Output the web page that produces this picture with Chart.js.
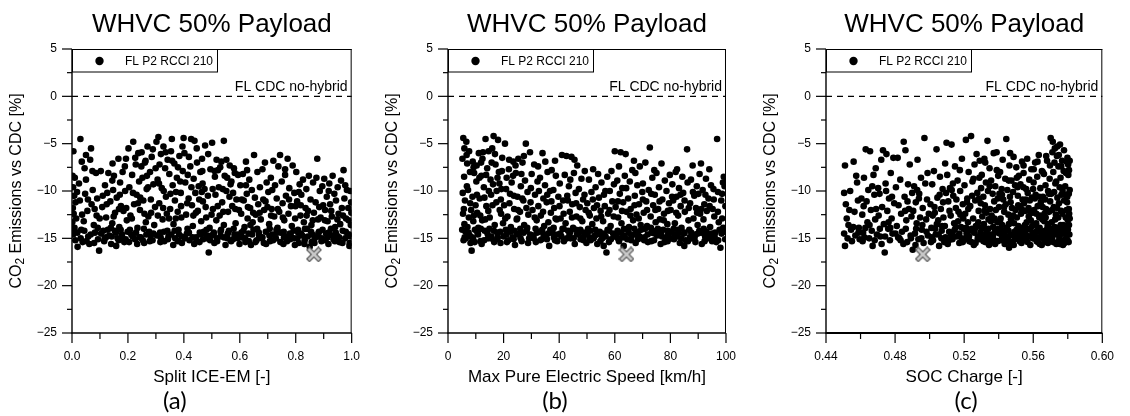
<!DOCTYPE html>
<html>
<head>
<meta charset="utf-8">
<script src="https://cdn.jsdelivr.net/npm/chart.js@4"></script>
<style>
  body { margin: 0; background: #fff; }
  .wrap { position: relative; width: 1130px; height: 416px; overflow: hidden; }
  canvas { position: absolute; top: 0; }
</style>
</head>
<body>
<div class="wrap">
  <canvas id="splitChart" width="376" height="416" style="left:0px"></canvas>
  <canvas id="speedChart" width="376" height="416" style="left:376px"></canvas>
  <canvas id="socChart" width="376" height="416" style="left:754px"></canvas>
</div>
<script>
// ---- data ----
var co2Ticks = [-25, -20, -15, -10, -5, 0, 5];
var splitTicks = [0, 0.2, 0.4, 0.6, 0.8, 1.0];
var speedTicks = [0, 20, 40, 60, 80, 100];
var socTicks = [0.44, 0.48, 0.52, 0.56, 0.60];

// FL CDC no-hybrid reference line
var cdcLevel = 0;

// best case (grey cross) per sweep
var splitBest = [0.865, -16.7];
var speedBest = [64.2, -16.7];
var socBest = [0.496, -16.7];

// FL P2 RCCI 210 runs: [split, co2 %]
var splitRuns = [
[0.005,-5.8],[0.03,-4.5],[0.035,-6.9],[0.065,-6.7],[0.068,-5.5],[0.002,-8.4],[0.01,-8.6],[0.004,-9.6],[0.008,-10.5],[0.003,-11.8],[0.006,-12.4],[0.001,-13.3],[0.009,-13.9],[0.004,-14.6],[0.012,-15.2],[0.02,-15.9],[0.015,-12.9],[0.025,-9.2],[0.028,-11.0],[0.033,-14.1],[0.038,-15.4],[0.042,-13.2],[0.047,-10.3],[0.05,-8.8],[0.055,-12.1],[0.058,-14.8],[0.062,-15.6],[0.07,-11.4],[0.074,-9.9],[0.078,-13.6],[0.082,-14.4],[0.086,-8.1],[0.09,-10.8],[0.093,-15.1],[0.097,-16.3],[0.088,-12.6],[0.045,-7.6],[0.018,-10.1],
[0.103,-7.9],[0.108,-11.7],[0.112,-14.2],[0.115,-15.3],[0.118,-9.4],[0.122,-12.8],[0.126,-10.2],[0.13,-8.1],[0.133,-14.7],[0.137,-11.1],[0.14,-15.6],[0.144,-13.4],[0.147,-9.9],[0.15,-8.4],[0.154,-12.3],[0.157,-14.4],[0.16,-10.7],[0.163,-15.0],[0.166,-6.6],[0.169,-13.8],[0.172,-9.1],[0.175,-11.6],[0.178,-14.9],[0.181,-8.0],[0.184,-12.1],[0.187,-15.4],[0.19,-10.0],[0.193,-6.6],[0.196,-13.1],[0.199,-14.3],[0.121,-14.9],[0.139,-13.9],[0.158,-15.8],[0.174,-14.1],[0.189,-7.4],[0.11,-10.5],[0.145,-7.1],[0.168,-11.9],
[0.202,-5.5],[0.205,-9.6],[0.209,-12.6],[0.212,-14.6],[0.215,-8.3],[0.219,-4.8],[0.222,-11.4],[0.225,-15.1],[0.228,-7.2],[0.231,-10.4],[0.234,-13.9],[0.237,-6.0],[0.24,-9.0],[0.243,-12.0],[0.246,-14.9],[0.249,-5.9],[0.252,-8.6],[0.255,-11.0],[0.258,-15.5],[0.261,-7.0],[0.264,-13.3],[0.267,-9.8],[0.27,-5.3],[0.273,-12.7],[0.276,-14.3],[0.279,-8.0],[0.282,-10.9],[0.285,-6.4],[0.288,-15.2],[0.291,-9.3],[0.294,-13.6],[0.297,-11.7],[0.207,-14.1],[0.233,-15.6],[0.257,-14.0],[0.281,-14.7],[0.299,-7.6],[0.218,-10.2],[0.263,-6.8],[0.244,-10.7],
[0.302,-4.8],[0.306,-8.8],[0.309,-4.3],[0.312,-11.3],[0.315,-14.4],[0.318,-6.1],[0.321,-9.7],[0.324,-13.0],[0.327,-5.3],[0.33,-15.3],[0.333,-7.6],[0.336,-10.6],[0.339,-12.4],[0.342,-6.7],[0.345,-14.8],[0.348,-8.2],[0.351,-11.9],[0.354,-5.8],[0.357,-4.5],[0.36,-9.4],[0.363,-13.5],[0.366,-7.1],[0.369,-15.0],[0.372,-10.1],[0.375,-8.6],[0.378,-12.2],[0.381,-14.1],[0.384,-6.3],[0.387,-9.0],[0.39,-11.6],[0.393,-15.5],[0.396,-7.9],[0.399,-4.4],[0.317,-14.9],[0.341,-14.2],[0.362,-15.7],[0.383,-14.6],[0.328,-10.0],[0.371,-12.9],
[0.402,-6.0],[0.405,-9.1],[0.408,-12.5],[0.411,-14.5],[0.414,-8.3],[0.417,-10.8],[0.42,-15.2],[0.423,-7.4],[0.426,-4.5],[0.429,-11.5],[0.432,-13.7],[0.435,-8.7],[0.438,-4.7],[0.441,-10.2],[0.444,-14.9],[0.447,-7.0],[0.45,-12.1],[0.453,-9.5],[0.456,-15.4],[0.459,-8.0],[0.462,-13.2],[0.465,-6.6],[0.468,-11.1],[0.471,-14.3],[0.474,-9.8],[0.476,-5.2],[0.48,-12.8],[0.483,-15.0],[0.486,-10.5],[0.489,-16.5],[0.492,-13.9],[0.495,-7.7],[0.498,-14.7],[0.413,-14.0],[0.437,-15.6],[0.461,-14.6],[0.481,-14.1],[0.443,-12.3],[0.467,-9.2],
[0.501,-4.9],[0.504,-11.9],[0.507,-14.4],[0.51,-7.9],[0.513,-10.4],[0.516,-13.1],[0.519,-15.3],[0.522,-7.8],[0.525,-9.6],[0.528,-12.6],[0.531,-14.8],[0.534,-6.9],[0.537,-11.2],[0.543,-4.7],[0.543,-13.6],[0.546,-8.4],[0.549,-15.7],[0.552,-10.0],[0.555,-8.6],[0.558,-12.2],[0.561,-14.2],[0.564,-7.3],[0.567,-9.3],[0.57,-9.0],[0.573,-11.6],[0.576,-15.1],[0.579,-7.6],[0.582,-8.1],[0.585,-13.4],[0.588,-10.9],[0.591,-14.6],[0.594,-8.3],[0.597,-12.0],[0.509,-15.5],[0.533,-14.1],[0.556,-15.0],[0.578,-14.0],[0.599,-15.6],[0.517,-6.7],[0.552,-6.7],
[0.602,-9.4],[0.605,-12.4],[0.608,-14.9],[0.611,-8.2],[0.614,-11.0],[0.617,-13.8],[0.62,-15.4],[0.622,-6.9],[0.625,-10.3],[0.628,-12.9],[0.631,-14.5],[0.634,-8.8],[0.637,-11.8],[0.64,-15.7],[0.643,-9.9],[0.646,-13.3],[0.649,-14.1],[0.651,-6.2],[0.654,-10.7],[0.657,-12.5],[0.66,-15.2],[0.663,-8.0],[0.666,-11.4],[0.669,-14.7],[0.672,-9.6],[0.675,-13.0],[0.678,-15.0],[0.681,-7.7],[0.684,-10.9],[0.687,-12.0],[0.69,-7.0],[0.693,-14.3],[0.696,-9.1],[0.699,-11.7],[0.613,-14.2],[0.638,-13.6],[0.662,-14.0],[0.686,-15.5],
[0.702,-10.1],[0.705,-13.5],[0.708,-15.3],[0.711,-8.6],[0.714,-11.9],[0.717,-14.6],[0.72,-6.8],[0.723,-12.7],[0.726,-9.4],[0.729,-15.0],[0.732,-10.8],[0.735,-13.9],[0.738,-7.4],[0.741,-12.2],[0.744,-6.2],[0.747,-14.4],[0.75,-9.0],[0.753,-11.3],[0.756,-15.6],[0.759,-13.1],[0.762,-8.3],[0.765,-10.5],[0.768,-14.8],[0.771,-6.6],[0.774,-12.4],[0.777,-9.7],[0.78,-15.1],[0.783,-11.6],[0.786,-13.7],[0.789,-7.3],[0.792,-14.2],[0.795,-10.2],[0.798,-12.9],[0.707,-14.0],[0.731,-14.1],[0.758,-14.9],[0.779,-14.5],[0.797,-15.7],
[0.802,-8.0],[0.805,-11.1],[0.808,-14.1],[0.811,-15.5],[0.814,-9.3],[0.817,-12.6],[0.82,-10.4],[0.823,-14.7],[0.826,-8.8],[0.829,-13.3],[0.832,-15.2],[0.835,-11.8],[0.838,-9.8],[0.841,-14.0],[0.844,-12.1],[0.847,-8.4],[0.85,-15.9],[0.853,-10.9],[0.856,-13.6],[0.859,-14.6],[0.862,-9.1],[0.865,-12.3],[0.868,-15.0],[0.871,-11.2],[0.874,-8.6],[0.877,-6.6],[0.88,-13.0],[0.883,-14.3],[0.886,-10.0],[0.889,-12.8],[0.892,-15.3],[0.895,-9.5],[0.898,-11.5],[0.809,-14.4],[0.833,-14.0],[0.857,-15.4],[0.879,-14.8],[0.896,-14.1],
[0.902,-8.7],[0.905,-12.0],[0.908,-14.5],[0.911,-10.6],[0.914,-13.2],[0.917,-15.6],[0.92,-9.2],[0.923,-11.4],[0.926,-14.0],[0.929,-12.7],[0.932,-8.4],[0.935,-15.1],[0.938,-10.3],[0.941,-13.8],[0.944,-11.0],[0.947,-14.7],[0.95,-9.6],[0.953,-12.4],[0.956,-15.4],[0.959,-13.5],[0.962,-8.9],[0.965,-11.8],[0.968,-14.2],[0.971,-7.8],[0.974,-10.8],[0.977,-15.0],[0.98,-12.9],[0.983,-9.9],[0.986,-14.6],[0.989,-13.1],[0.992,-15.8],[0.995,-10.0],[0.998,-11.2],[0.999,-12.3],[0.997,-13.6],[0.996,-14.8],[0.993,-15.5],[0.94,-15.3],[0.913,-14.9],
[0.006,-14.0],[0.019,-14.4],[0.031,-15.0],[0.044,-14.2],[0.052,-15.3],[0.067,-14.6],[0.079,-15.5],[0.092,-13.9],[0.104,-14.5],[0.117,-15.0],[0.128,-14.1],[0.142,-14.8],[0.153,-14.2],[0.167,-15.2],[0.179,-14.6],[0.192,-15.1],[0.204,-15.4],[0.217,-14.8],[0.229,-14.4],[0.241,-14.9],[0.253,-15.2],[0.266,-14.6],[0.278,-15.3],[0.291,-14.5],[0.304,-14.7],[0.316,-15.4],[0.329,-14.3],[0.343,-15.1],[0.355,-14.6],[0.367,-14.2],[0.379,-15.3],[0.392,-14.8],[0.404,-15.0],[0.418,-14.4],[0.431,-14.9],[0.445,-15.3],[0.457,-14.4],[0.469,-15.1],[0.482,-14.7],[0.494,-15.2],[0.506,-14.6],[0.518,-15.0],[0.531,-14.3],[0.544,-14.9],[0.557,-14.5],[0.569,-15.3],[0.581,-14.6],[0.593,-15.0],[0.606,-14.4],[0.619,-15.0],[0.632,-15.3],[0.644,-14.6],[0.656,-15.4],[0.668,-14.4],[0.681,-14.9],[0.694,-15.6],[0.706,-14.7],[0.719,-15.2],[0.733,-14.4],[0.745,-15.4],[0.757,-14.3],[0.769,-15.3],[0.782,-14.7],[0.794,-15.0],[0.806,-15.0],[0.819,-14.5],[0.831,-15.6],[0.843,-14.8],[0.855,-14.3],[0.867,-15.5],[0.881,-14.5],[0.893,-15.0],[0.906,-15.2],[0.918,-14.4],[0.931,-14.7],[0.943,-14.4],[0.955,-14.9],[0.967,-15.5],[0.979,-14.3],[0.991,-14.6],
[0.013,-11.2],[0.036,-12.5],[0.057,-10.9],[0.081,-11.9],[0.099,-12.9],[0.124,-11.4],[0.149,-12.7],[0.171,-10.4],[0.194,-11.8],[0.214,-12.9],[0.236,-11.3],[0.259,-12.4],[0.283,-12.3],[0.307,-12.6],[0.326,-11.8],[0.347,-12.9],[0.368,-11.0],[0.391,-12.8],[0.412,-11.3],[0.434,-12.6],[0.455,-10.9],[0.478,-11.7],[0.499,-12.5],[0.521,-11.6],[0.541,-12.2],[0.563,-10.6],[0.584,-11.9],[0.607,-10.9],[0.629,-11.7],[0.648,-12.3],[0.671,-12.3],[0.692,-11.1],[0.712,-12.6],[0.736,-11.9],[0.754,-12.8],[0.776,-10.9],[0.799,-11.6],[0.818,-11.5],[0.839,-12.6],[0.861,-13.1],[0.884,-11.7],[0.904,-13.1],[0.927,-12.1],[0.949,-13.0],[0.969,-12.6],[0.988,-11.8],[0.272,-9.6],[0.311,-9.2],[0.352,-10.3],[0.389,-10.2],[0.427,-9.6],[0.464,-10.1],[0.503,-9.8],[0.539,-9.8],[0.576,-10.2],[0.622,-9.4],[0.716,-9.9],[0.811,-10.1],[0.918,-10.0],[0.977,-9.4],
[0.226,-6.5],[0.248,-7.4],[0.268,-8.4],[0.289,-5.6],[0.313,-7.2],[0.335,-5.9],[0.358,-6.8],[0.379,-7.5],[0.395,-5.3],[0.418,-6.4],[0.446,-5.5],[0.466,-7.9],[0.487,-6.1],[0.511,-8.5],[0.53,-7.5],[0.05,-6.2],[0.073,-7.9],[0.144,-8.9],[0.626,-7.8],[0.762,-7.7]
];

// [max pure electric speed km/h, co2 %]
var speedRuns = [
[5.2,-6.6],[5.5,-4.4],[5.8,-8.5],[6.1,-11.0],[5.4,-12.4],[5.9,-13.5],[6.3,-14.3],[5.6,-15.2],[6.6,-4.8],[6.9,-7.1],[7.2,-9.9],[7.5,-12.8],[7.8,-14.7],[8.1,-15.5],[8.5,-16.3],[8.8,-10.6],[9.1,-13.2],[9.4,-8.1],[9.7,-14.1],[5.3,-10.2],[6.0,-14.9],[7.0,-13.8],[8.3,-12.0],[9.0,-15.0],[9.9,-11.5],[7.6,-5.8],[8.9,-6.9],
[10.2,-9.0],[10.5,-12.3],[10.8,-14.6],[11.1,-6.0],[11.4,-10.8],[11.7,-15.3],[12.0,-8.4],[12.3,-13.1],[12.6,-5.9],[12.9,-9.6],[13.2,-14.2],[13.5,-4.5],[13.8,-11.6],[14.1,-7.6],[14.4,-15.0],[14.7,-10.0],[15.0,-12.8],[15.3,-8.8],[15.6,-14.8],[15.9,-5.5],[16.2,-9.3],[16.4,-4.2],[16.8,-13.6],[17.1,-7.2],[17.4,-11.2],[17.7,-14.4],[18.0,-4.6],[18.3,-8.0],[18.6,-12.0],[18.9,-15.5],[19.2,-9.8],[19.5,-6.5],[19.8,-13.4],[10.9,-13.9],[12.1,-15.6],[13.4,-13.0],[14.9,-14.0],[16.6,-15.4],[17.9,-14.9],[19.0,-10.9],[11.9,-7.0],[15.5,-10.4],[18.5,-9.2],
[20.2,-11.5],[20.5,-5.0],[20.8,-14.1],[21.1,-8.6],[21.4,-12.7],[21.7,-15.2],[22.0,-6.7],[22.3,-10.3],[22.6,-13.8],[22.9,-9.1],[23.2,-14.9],[23.5,-6.9],[23.8,-11.9],[24.1,-15.7],[24.4,-8.1],[24.7,-13.0],[25.0,-10.6],[25.3,-6.6],[25.6,-14.5],[25.9,-12.2],[26.2,-9.5],[26.5,-15.3],[26.8,-7.0],[27.1,-11.0],[27.4,-13.6],[27.7,-8.9],[28.0,-5.0],[28.3,-14.2],[28.6,-10.1],[28.9,-12.5],[29.2,-15.0],[29.5,-5.9],[29.8,-9.7],[21.0,-14.6],[23.9,-14.2],[26.0,-14.0],[28.8,-15.5],[24.9,-12.9],[27.3,-6.3],
[30.1,-8.2],[30.4,-12.0],[30.7,-14.7],[31.0,-7.2],[31.3,-10.4],[31.6,-15.4],[31.9,-13.1],[32.2,-9.0],[32.5,-11.6],[32.8,-14.3],[33.1,-8.6],[33.4,-12.6],[33.7,-15.1],[34.0,-6.0],[34.3,-10.8],[34.6,-13.7],[34.9,-9.4],[35.2,-14.9],[35.5,-11.2],[35.8,-8.0],[36.1,-13.3],[36.4,-15.8],[36.7,-10.0],[37.0,-12.3],[37.3,-7.8],[37.6,-14.4],[37.9,-9.9],[38.2,-11.8],[38.5,-15.2],[38.8,-8.4],[39.1,-13.0],[39.4,-14.6],[39.7,-10.6],[31.5,-14.0],[33.9,-14.1],[36.0,-14.5],[38.0,-13.9],[35.0,-6.9],
[40.2,-9.2],[40.5,-12.9],[40.8,-14.8],[41.0,-6.2],[41.4,-11.0],[41.7,-15.3],[42.0,-8.3],[42.3,-13.4],[42.6,-6.3],[42.9,-10.5],[43.2,-14.2],[43.5,-9.5],[43.8,-12.2],[44.1,-15.0],[44.4,-6.4],[44.7,-11.4],[45.0,-13.9],[45.3,-8.1],[45.6,-15.6],[45.9,-10.2],[46.2,-12.7],[46.5,-7.3],[46.8,-14.5],[47.1,-9.8],[47.4,-11.7],[47.7,-15.1],[48.0,-8.7],[48.3,-13.2],[48.6,-10.9],[48.9,-14.4],[49.2,-7.9],[49.5,-12.0],[49.8,-15.5],[41.2,-14.0],[43.7,-14.6],[46.0,-14.1],[48.5,-14.9],[44.0,-8.8],
[50.1,-11.3],[50.4,-14.0],[50.7,-8.8],[51.0,-12.6],[51.3,-15.2],[51.6,-10.1],[51.9,-13.5],[52.2,-7.7],[52.5,-11.8],[52.8,-14.7],[53.1,-9.6],[53.4,-12.9],[53.7,-15.6],[54.0,-8.2],[54.3,-10.7],[54.6,-14.3],[54.9,-12.1],[55.2,-9.1],[55.5,-15.0],[55.8,-13.2],[56.1,-10.4],[56.4,-11.6],[56.7,-14.8],[57.0,-16.5],[57.3,-8.5],[57.6,-12.4],[57.9,-15.4],[58.2,-10.0],[58.5,-13.7],[58.8,-7.9],[59.1,-11.1],[59.4,-14.5],[59.7,-9.3],[50.9,-14.9],[53.0,-14.1],[55.0,-14.6],[58.0,-14.2],[56.0,-15.8],
[60.0,-5.8],[60.3,-11.7],[60.6,-14.6],[60.9,-8.9],[61.2,-12.8],[61.5,-15.3],[61.8,-10.3],[62.1,-5.9],[62.4,-13.4],[62.7,-9.7],[63.0,-11.2],[63.3,-14.0],[63.6,-8.4],[63.9,-6.1],[64.2,-12.2],[64.5,-15.1],[64.8,-10.8],[65.1,-13.8],[65.4,-9.0],[65.7,-11.9],[66.0,-14.7],[66.3,-7.8],[66.6,-13.1],[66.9,-6.8],[67.2,-10.5],[67.5,-15.5],[67.8,-12.5],[68.1,-9.4],[68.4,-14.3],[68.7,-11.4],[69.0,-7.4],[69.3,-13.6],[69.6,-15.0],[69.9,-10.1],[61.0,-14.2],[62.9,-14.9],[65.0,-14.4],[67.0,-14.0],[68.9,-14.8],[63.2,-15.8],
[70.1,-9.2],[70.4,-12.3],[70.7,-14.9],[71.0,-7.0],[71.3,-11.1],[71.6,-13.7],[71.9,-15.4],[72.2,-9.9],[72.6,-5.4],[72.9,-12.7],[73.2,-14.4],[73.5,-8.6],[73.8,-11.5],[74.1,-15.2],[74.4,-10.4],[74.7,-13.3],[75.0,-8.1],[75.3,-14.7],[75.6,-11.9],[75.9,-9.6],[76.2,-13.0],[76.5,-15.6],[76.8,-7.1],[77.1,-10.9],[77.4,-14.1],[77.7,-12.4],[78.0,-8.9],[78.3,-15.0],[78.6,-10.0],[78.9,-13.5],[79.2,-14.6],[79.5,-11.3],[79.8,-8.3],[70.9,-14.0],[73.0,-13.9],[74.9,-14.2],[77.0,-14.8],[79.0,-15.3],
[80.1,-12.0],[80.4,-14.3],[80.7,-9.3],[81.0,-11.0],[81.3,-15.1],[81.6,-13.4],[81.9,-8.0],[82.2,-10.6],[82.5,-14.8],[82.8,-12.6],[83.1,-9.7],[83.4,-15.5],[83.7,-11.6],[84.0,-13.9],[84.3,-8.5],[84.6,-10.2],[84.9,-14.5],[85.2,-12.2],[85.5,-15.2],[86.0,-5.6],[86.2,-9.1],[86.5,-13.1],[86.8,-14.1],[87.1,-11.3],[87.4,-8.8],[87.7,-15.0],[88.0,-7.3],[88.3,-12.9],[88.6,-10.5],[88.9,-14.6],[89.2,-11.8],[89.5,-9.5],[89.8,-13.6],[81.2,-14.0],[83.0,-14.4],[85.0,-15.8],[87.0,-14.9],[89.0,-15.4],
[90.1,-10.3],[90.4,-14.2],[90.7,-12.4],[91.0,-7.1],[91.3,-15.6],[91.6,-9.9],[91.9,-13.0],[92.2,-11.4],[92.5,-14.8],[92.8,-8.7],[93.1,-12.1],[93.4,-15.0],[93.7,-10.8],[94.0,-7.7],[94.3,-13.8],[94.6,-9.4],[94.9,-14.5],[95.2,-11.9],[95.5,-9.8],[95.8,-12.7],[96.1,-14.4],[96.8,-4.5],[97.1,-10.1],[97.4,-13.3],[97.7,-14.1],[98.0,-16.0],[98.3,-11.0],[98.6,-12.9],[98.9,-9.1],[99.2,-8.5],[99.5,-9.5],[99.7,-15.1],[93.0,-14.3],[95.0,-15.3],[96.5,-15.4],[99.0,-13.9],[92.0,-14.0],
[5.1,-14.1],[6.4,-15.0],[7.4,-14.4],[8.6,-14.9],[9.6,-15.4],[10.6,-14.4],[11.8,-14.0],[13.0,-15.2],[14.2,-14.5],[15.4,-15.0],[16.5,-14.2],[17.6,-15.1],[18.8,-14.3],[20.0,-14.8],[21.2,-15.4],[22.4,-14.3],[23.6,-15.1],[24.8,-14.6],[26.1,-15.0],[27.2,-14.4],[28.5,-13.9],[29.6,-14.6],[30.8,-15.0],[32.0,-14.4],[33.2,-15.2],[34.4,-14.6],[35.6,-15.1],[36.8,-14.1],[38.1,-14.9],[39.3,-15.3],[40.4,-14.5],[41.6,-14.0],[42.8,-15.0],[44.0,-14.3],[45.2,-15.0],[46.4,-14.6],[47.6,-14.1],[48.8,-15.2],[50.0,-14.6],[51.2,-14.2],[52.4,-15.0],[53.6,-14.6],[54.8,-15.3],[56.2,-14.5],[57.4,-14.1],[58.6,-15.1],[59.8,-14.8],[61.1,-15.0],[62.3,-14.4],[63.5,-14.7],[64.7,-14.1],[65.9,-15.2],[67.1,-14.6],[68.3,-15.1],[69.5,-14.1],[70.6,-15.2],[71.8,-14.6],[73.1,-15.3],[74.3,-14.5],[75.5,-14.0],[76.7,-14.4],[77.9,-15.4],[79.1,-14.2],[80.3,-15.0],[81.5,-14.6],[82.7,-14.1],[83.9,-15.0],[85.1,-14.4],[86.3,-15.3],[87.5,-14.4],[88.7,-14.9],[89.9,-14.5],[91.1,-14.4],[92.3,-15.3],[93.5,-14.6],[94.7,-15.0],[95.9,-14.8],[97.2,-15.2],[98.4,-14.5],[99.6,-14.3],
[5.7,-11.9],[6.8,-9.5],[8.0,-11.3],[9.3,-12.6],[10.4,-10.4],[11.6,-12.6],[13.1,-10.7],[14.5,-12.1],[16.0,-11.5],[17.5,-10.0],[19.1,-12.4],[20.6,-12.9],[22.1,-11.3],[23.7,-10.5],[25.2,-12.0],[26.7,-10.8],[28.2,-11.8],[29.7,-11.2],[31.2,-12.8],[32.7,-10.0],[34.2,-12.2],[35.7,-10.4],[37.2,-11.1],[38.7,-12.9],[40.1,-11.6],[41.6,-12.4],[43.1,-11.0],[44.6,-12.8],[46.1,-11.3],[47.6,-12.9],[49.1,-10.4],[50.6,-12.3],[52.1,-10.9],[53.6,-11.5],[55.1,-12.7],[56.6,-10.0],[58.1,-12.0],[59.6,-12.7],[61.1,-11.1],[62.6,-12.1],[64.1,-9.7],[65.6,-12.6],[67.1,-11.5],[68.6,-12.9],[70.1,-10.9],[71.6,-12.0],[73.1,-10.3],[74.6,-12.0],[76.1,-11.1],[77.6,-13.1],[79.1,-12.1],[80.6,-10.6],[82.1,-12.3],[83.6,-10.4],[85.1,-11.0],[86.6,-11.8],[88.1,-10.1],[89.6,-12.3],[91.1,-11.9],[92.6,-10.4],[94.1,-11.6],[95.6,-10.9],[97.1,-12.2],[98.6,-10.3],[99.8,-11.6],
[5.9,-5.5],[6.7,-6.2],[7.9,-8.0],[9.2,-7.5],[10.3,-7.3],[11.3,-8.6],[12.4,-6.6],[13.7,-8.3],[14.6,-5.8],[15.7,-7.0],[16.9,-6.1],[17.8,-8.6],[19.4,-7.9],[20.9,-9.8],[21.9,-7.7],[23.4,-8.4],[24.3,-7.3],[26.4,-8.2],[32.4,-7.4],[38.5,-6.8],[45.5,-6.7],[61.5,-7.4],[67.4,-8.1],[74.2,-7.8],[82.4,-7.7],[90.5,-8.2]
];

// [SOC charge, co2 %]
var socRuns = [
[0.4505,-10.2],[0.451,-7.3],[0.4515,-11.4],[0.452,-12.9],[0.4505,-14.5],[0.451,-15.8],[0.453,-13.6],[0.454,-10.0],[0.455,-15.3],[0.456,-6.9],[0.4565,-12.2],[0.457,-14.7],[0.458,-9.1],[0.4585,-11.0],[0.459,-13.9],[0.4595,-15.1],[0.4575,-8.4],[0.4545,-14.1],
[0.4605,-10.8],[0.461,-12.5],[0.4615,-14.4],[0.462,-8.6],[0.463,-5.6],[0.4635,-11.1],[0.464,-13.3],[0.4645,-9.9],[0.465,-15.0],[0.4655,-5.8],[0.466,-12.0],[0.4665,-14.2],[0.467,-15.8],[0.4675,-8.3],[0.468,-10.4],[0.4685,-13.0],[0.469,-11.9],[0.4695,-14.6],[0.4612,-15.3],[0.4668,-9.5],[0.4628,-13.9],[0.4688,-7.6],
[0.4705,-12.6],[0.471,-10.3],[0.4715,-14.8],[0.472,-6.7],[0.4725,-11.7],[0.473,-5.7],[0.4735,-13.5],[0.474,-16.5],[0.4745,-9.2],[0.475,-6.1],[0.4755,-12.1],[0.476,-14.0],[0.4765,-10.8],[0.477,-15.2],[0.4775,-8.1],[0.478,-12.9],[0.4785,-14.5],[0.479,-6.5],[0.4795,-11.3],[0.4722,-15.6],[0.4762,-13.3],[0.4748,-10.0],
[0.4805,-9.6],[0.481,-13.7],[0.4815,-6.5],[0.482,-11.5],[0.4825,-15.0],[0.483,-8.8],[0.4835,-12.4],[0.484,-14.3],[0.485,-4.8],[0.4855,-10.6],[0.486,-5.7],[0.4865,-13.1],[0.487,-15.4],[0.4875,-9.3],[0.488,-11.9],[0.4885,-7.2],[0.489,-14.7],[0.4895,-12.7],[0.4818,-14.9],[0.4848,-15.6],[0.4872,-11.1],[0.4899,-10.2],
[0.4902,-16.2],[0.4905,-12.1],[0.491,-9.5],[0.4915,-14.5],[0.492,-11.2],[0.4925,-13.4],[0.493,-6.7],[0.4935,-15.1],[0.494,-10.3],[0.4945,-12.8],[0.495,-8.6],[0.4955,-14.1],[0.496,-11.8],[0.4965,-15.5],[0.497,-4.4],[0.4975,-9.2],[0.498,-13.0],[0.4985,-10.9],[0.499,-14.7],[0.4995,-12.4],[0.4918,-15.7],[0.4958,-13.6],[0.4988,-8.1],[0.4938,-10.8],
[0.5005,-11.4],[0.501,-13.9],[0.5015,-9.3],[0.502,-15.2],[0.5025,-7.9],[0.503,-12.3],[0.5035,-14.6],[0.504,-5.6],[0.5045,-10.7],[0.505,-13.1],[0.5055,-15.8],[0.506,-8.5],[0.5065,-11.9],[0.507,-14.2],[0.5075,-9.8],[0.508,-12.8],[0.5085,-15.4],[0.509,-7.1],[0.5095,-10.2],[0.5012,-14.9],[0.5042,-13.5],[0.5068,-15.0],[0.5088,-13.7],[0.5058,-10.4],[0.5028,-11.7],[0.5098,-4.9],
[0.5102,-8.3],[0.5108,-11.1],[0.5113,-14.3],[0.5118,-9.7],[0.5122,-12.6],[0.5127,-5.1],[0.5132,-15.1],[0.5137,-10.5],[0.5142,-13.4],[0.5147,-7.4],[0.5152,-11.8],[0.5157,-14.8],[0.5162,-8.9],[0.5167,-12.2],[0.5172,-15.5],[0.5177,-10.0],[0.5182,-13.8],[0.5187,-6.6],[0.5192,-11.4],[0.5197,-14.0],[0.5105,-15.6],[0.5125,-14.7],[0.5145,-14.1],[0.5165,-13.2],[0.5185,-15.0],[0.5115,-12.1],[0.5135,-9.2],[0.5155,-10.9],[0.5175,-7.8],[0.5195,-12.9],
[0.5202,-9.4],[0.5206,-12.4],[0.521,-4.6],[0.5214,-14.5],[0.5218,-10.8],[0.5222,-13.3],[0.5226,-8.0],[0.523,-15.3],[0.5235,-11.6],[0.524,-4.2],[0.5244,-14.0],[0.5248,-9.0],[0.5252,-12.9],[0.5256,-15.7],[0.526,-7.2],[0.5264,-11.0],[0.5268,-13.7],[0.5272,-6.1],[0.5276,-10.2],[0.528,-14.8],[0.5284,-12.1],[0.5288,-8.6],[0.5292,-15.1],[0.5296,-11.3],[0.5299,-13.9],[0.5208,-15.0],[0.5232,-14.2],[0.5258,-14.4],[0.5282,-13.3],[0.5298,-9.7],[0.5224,-11.9],[0.5266,-15.5],[0.5246,-10.5],[0.529,-6.8],
[0.5302,-8.3],[0.5305,-12.7],[0.5308,-14.9],[0.5311,-10.6],[0.5314,-13.5],[0.5317,-6.6],[0.532,-11.5],[0.5323,-15.4],[0.5326,-9.1],[0.5329,-12.3],[0.5332,-14.1],[0.5335,-4.7],[0.5338,-10.0],[0.5341,-13.0],[0.5344,-15.7],[0.5347,-7.6],[0.535,-11.9],[0.5353,-14.6],[0.5356,-8.9],[0.5359,-12.6],[0.5362,-15.1],[0.5365,-10.3],[0.5368,-13.8],[0.5371,-6.0],[0.5374,-11.1],[0.5377,-14.4],[0.538,-9.5],[0.5383,-12.0],[0.5386,-15.3],[0.5389,-7.8],[0.5392,-13.3],[0.5395,-10.8],[0.5398,-14.0],[0.5309,-13.9],[0.5331,-15.0],[0.5355,-13.2],[0.5379,-15.6],[0.5397,-8.4],
[0.5402,-11.7],[0.5405,-14.5],[0.5408,-8.0],[0.5411,-12.9],[0.5414,-15.2],[0.5417,-9.8],[0.542,-13.6],[0.5423,-6.7],[0.5426,-10.9],[0.5429,-14.2],[0.5432,-12.2],[0.5435,-15.6],[0.5438,-8.7],[0.5441,-11.4],[0.5444,-4.5],[0.5447,-13.9],[0.545,-9.9],[0.5453,-15.0],[0.5456,-12.5],[0.546,-16.0],[0.5462,-7.3],[0.5465,-10.6],[0.5468,-14.7],[0.5471,-13.0],[0.5474,-8.9],[0.5477,-11.8],[0.548,-15.4],[0.5483,-10.1],[0.5486,-6.4],[0.5489,-13.4],[0.5492,-14.3],[0.5495,-9.4],[0.5498,-12.0],[0.5407,-13.2],[0.5428,-15.1],[0.5449,-14.8],[0.5469,-11.2],[0.5487,-15.7],[0.5459,-13.5],[0.5419,-10.4],
[0.5502,-7.5],[0.5505,-12.8],[0.5508,-15.0],[0.5511,-10.5],[0.5514,-13.7],[0.5517,-8.4],[0.552,-11.7],[0.5523,-14.6],[0.5526,-9.3],[0.5529,-12.4],[0.5532,-15.5],[0.5535,-6.9],[0.5538,-10.9],[0.5541,-13.9],[0.5544,-8.1],[0.5547,-11.3],[0.555,-14.2],[0.5553,-12.1],[0.5556,-15.2],[0.5559,-9.8],[0.5562,-13.3],[0.5565,-6.6],[0.5568,-10.2],[0.5571,-14.8],[0.5574,-12.7],[0.5577,-8.8],[0.558,-11.0],[0.5583,-15.7],[0.5586,-13.1],[0.5589,-7.7],[0.5592,-10.7],[0.5595,-14.4],[0.5598,-12.3],[0.5504,-14.1],[0.5522,-15.3],[0.5537,-14.9],[0.5552,-13.6],[0.5567,-15.4],[0.5581,-14.0],[0.5597,-15.0],[0.5513,-11.5],[0.5543,-9.6],[0.5573,-11.8],
[0.5602,-9.1],[0.5605,-12.0],[0.5608,-14.7],[0.5611,-7.0],[0.5614,-10.4],[0.5617,-13.4],[0.562,-15.3],[0.5623,-8.5],[0.5626,-11.6],[0.5629,-14.0],[0.5632,-6.2],[0.5635,-12.8],[0.5638,-15.6],[0.5641,-9.7],[0.5644,-11.2],[0.5647,-14.5],[0.565,-7.9],[0.5653,-13.0],[0.5656,-10.6],[0.5659,-15.0],[0.5662,-8.2],[0.5665,-12.4],[0.5668,-14.2],[0.5671,-9.4],[0.5674,-11.9],[0.5677,-15.4],[0.568,-6.8],[0.5683,-13.7],[0.5686,-10.0],[0.5689,-14.8],[0.5692,-12.2],[0.5695,-8.7],[0.5698,-11.1],[0.5604,-13.6],[0.5619,-14.9],[0.5634,-14.3],[0.5649,-15.7],[0.5664,-13.2],[0.5679,-14.1],[0.5694,-15.2],[0.5609,-10.8],[0.5639,-12.6],[0.5669,-10.9],[0.5688,-13.5],
[0.5701,-4.4],[0.5704,-10.3],[0.5707,-13.3],[0.571,-15.1],[0.5713,-4.8],[0.5716,-8.0],[0.5719,-11.7],[0.5722,-14.4],[0.5725,-5.5],[0.5728,-9.2],[0.5731,-12.5],[0.5734,-15.6],[0.5737,-6.3],[0.574,-10.7],[0.5743,-13.9],[0.5746,-7.4],[0.5749,-11.3],[0.5752,-14.8],[0.5755,-5.1],[0.5758,-8.6],[0.5761,-12.1],[0.5764,-15.3],[0.5767,-6.8],[0.577,-10.0],[0.5773,-13.6],[0.5776,-7.9],[0.5779,-11.0],[0.5782,-14.2],[0.5785,-9.5],[0.5788,-12.8],[0.5791,-15.0],[0.5794,-6.9],[0.5797,-10.6],[0.58,-13.1],[0.5803,-8.3],[0.5806,-11.9],[0.5809,-14.6],[0.5811,-9.9],[0.5808,-12.4],[0.5805,-15.4],[0.5802,-7.2],[0.5712,-14.0],[0.5727,-13.0],[0.5742,-15.5],[0.5757,-14.1],[0.5772,-15.7],[0.5787,-14.5],[0.5799,-15.2],[0.5733,-9.0],[0.5763,-10.4],[0.5793,-12.0],
[0.4525,-15.0],[0.4558,-13.8],[0.4588,-14.4],[0.4622,-14.9],[0.4652,-13.6],[0.4682,-15.2],[0.4712,-14.0],[0.4742,-14.8],[0.4772,-13.9],[0.4802,-14.5],[0.4832,-15.2],[0.4862,-14.0],[0.4892,-15.0],[0.4922,-14.0],[0.4952,-15.0],[0.4982,-14.3],[0.5008,-15.4],[0.5032,-14.0],[0.5052,-14.6],[0.5072,-13.7],[0.5092,-14.9],[0.5112,-15.2],[0.5132,-14.4],[0.5152,-13.8],[0.5172,-14.5],[0.5192,-15.4],[0.5212,-13.9],[0.5228,-14.8],[0.5242,-15.4],[0.5262,-14.0],[0.5278,-15.1],[0.5294,-14.4],[0.5312,-15.3],[0.5326,-14.5],[0.534,-14.0],[0.5352,-15.4],[0.5366,-14.8],[0.5381,-14.2],[0.5394,-15.3],[0.5408,-14.1],[0.5421,-14.9],[0.5433,-14.4],[0.5445,-15.3],[0.5457,-14.2],[0.547,-15.6],[0.5482,-14.6],[0.5494,-15.1],[0.5507,-14.5],[0.5519,-13.9],[0.5531,-14.4],[0.5545,-15.1],[0.5558,-14.6],[0.5569,-14.0],[0.5582,-14.8],[0.5594,-13.7],[0.5606,-15.0],[0.5616,-14.3],[0.5627,-15.4],[0.5637,-13.9],[0.5646,-14.9],[0.5657,-14.3],[0.5667,-15.3],[0.5676,-14.6],[0.5685,-15.5],[0.5696,-14.4],[0.5706,-14.8],[0.5715,-15.4],[0.5724,-13.8],[0.5732,-14.6],[0.5741,-14.2],[0.5751,-15.1],[0.5759,-13.6],[0.5768,-14.5],[0.5776,-15.2],[0.5784,-13.9],[0.5792,-14.7],[0.5801,-14.1],[0.5807,-13.6],[0.5781,-15.5],[0.5754,-15.6],
[0.4535,-12.0],[0.4618,-11.6],[0.4702,-9.7],[0.4782,-10.6],[0.4858,-12.1],[0.4928,-9.9],[0.5018,-12.6],[0.5078,-11.2],[0.5128,-9.9],[0.5178,-12.5],[0.5216,-11.2],[0.5254,-8.7],[0.5286,-10.8],[0.5318,-12.1],[0.5348,-9.5],[0.5376,-12.9],[0.5404,-10.3],[0.5431,-11.7],[0.5458,-8.9],[0.5484,-12.6],[0.5509,-9.6],[0.5533,-11.9],[0.5557,-10.9],[0.5578,-12.1],[0.5599,-9.8],[0.5618,-12.4],[0.5636,-10.6],[0.5654,-11.7],[0.5672,-12.8],[0.5691,-10.3],[0.5709,-12.0],[0.5721,-10.1],[0.5738,-11.8],[0.5753,-9.6],[0.5769,-12.4],[0.5783,-10.4],[0.5796,-11.2],[0.5806,-10.3],[0.5811,-12.9],[0.5745,-12.8],
[0.5603,-7.7],[0.5625,-6.9],[0.5655,-8.0],[0.5675,-6.3],[0.5697,-7.3],[0.5711,-5.9],[0.5723,-7.0],[0.5739,-5.3],[0.5748,-6.2],[0.5762,-7.4],[0.5778,-5.7],[0.579,-8.1],[0.5798,-6.5],[0.5807,-7.8],[0.5811,-6.8],[0.5544,-7.3],[0.5505,-8.6],[0.5466,-6.0],[0.5388,-5.9],[0.5322,-7.0]
];

// ---- drawing ----
var FONT = "'Liberation Sans', Arial, sans-serif";

function toXY(list) { return list.map(function (p) { return { x: p[0], y: p[1] }; }); }
function midpoints(t) { var out = []; for (var i = 0; i < t.length - 1; i++) out.push((t[i] + t[i + 1]) / 2); return out; }

// grey cross with a dark outline, used as point image
function crossImage() {
  var c = document.createElement("canvas");
  c.width = 16; c.height = 16;
  var g = c.getContext("2d");
  g.lineCap = "square";
  g.strokeStyle = "#5a5a5a"; g.lineWidth = 5;
  g.beginPath(); g.moveTo(3.5, 3.5); g.lineTo(12.5, 12.5); g.moveTo(12.5, 3.5); g.lineTo(3.5, 12.5); g.stroke();
  g.strokeStyle = "#c8c8c8"; g.lineWidth = 2.6;
  g.beginPath(); g.moveTo(3.5, 3.5); g.lineTo(12.5, 12.5); g.moveTo(12.5, 3.5); g.lineTo(3.5, 12.5); g.stroke();
  return c;
}
var crossImg = crossImage();

function line(ctx, x1, y1, x2, y2) { ctx.beginPath(); ctx.moveTo(x1, y1); ctx.lineTo(x2, y2); ctx.stroke(); }

var decor = {
  id: "decor",
  afterDraw: function (chart) {
    var o = chart.options.plugins.decor;
    var ctx = chart.ctx, a = chart.chartArea;
    var xs = chart.scales.x, ys = chart.scales.y;
    var cx = (a.left + a.right) / 2;
    ctx.save();
    ctx.strokeStyle = "#000";
    ctx.fillStyle = "#000";

    // frame
    ctx.lineWidth = 1;
    line(ctx, a.left, a.top + 0.5, a.right, a.top + 0.5);
    line(ctx, a.right - 0.5, a.top, a.right - 0.5, a.bottom);
    ctx.lineWidth = 1.4;
    line(ctx, a.left, a.top, a.left, a.bottom + 0.5);
    ctx.lineWidth = o.bottomWidth;
    line(ctx, a.left - 0.5, a.bottom, a.right, a.bottom);

    // ticks
    ctx.lineWidth = 1.2;
    o.xTicks.forEach(function (v) { var p = xs.getPixelForValue(v); line(ctx, p, a.bottom, p, a.bottom + 10); });
    midpoints(o.xTicks).forEach(function (v) { var p = xs.getPixelForValue(v); line(ctx, p, a.bottom, p, a.bottom + 6); });
    co2Ticks.forEach(function (v) { var p = ys.getPixelForValue(v); line(ctx, a.left, p, a.left - 10, p); });
    midpoints(co2Ticks).forEach(function (v) { var p = ys.getPixelForValue(v); line(ctx, a.left, p, a.left - 5, p); });

    // reference line
    var zy = ys.getPixelForValue(cdcLevel);
    ctx.lineWidth = 1.2;
    ctx.setLineDash([6, 5]);
    line(ctx, a.left, zy, a.right, zy);
    ctx.setLineDash([]);
    ctx.font = "14px " + FONT;
    ctx.textAlign = "right"; ctx.textBaseline = "middle";
    ctx.fillText("FL CDC no-hybrid", a.right - 4, zy - 9);

    // legend box
    ctx.lineWidth = 1;
    ctx.strokeRect(a.left + 0.5, a.top + 0.5, 145, 22.5);
    ctx.beginPath(); ctx.arc(a.left + 27.5, a.top + 12, 4.2, 0, Math.PI * 2); ctx.fill();
    ctx.font = "12px " + FONT;
    ctx.textAlign = "left";
    ctx.fillText("FL P2 RCCI 210", a.left + 53, a.top + 12.5);

    // title
    ctx.font = "26px " + FONT;
    ctx.textAlign = "center";
    ctx.fillText("WHVC 50% Payload", cx, 25);

    // x axis title
    ctx.font = "17px " + FONT;
    ctx.fillText(o.xTitle, cx, 377);

    // sub-figure letter
    ctx.font = "24px Lato, 'Open Sans', sans-serif";
    ctx.fillText(o.letter, cx + o.letterShift, 401);

    // y axis title with subscript
    ctx.translate(a.left - 55, (a.top + a.bottom) / 2);
    ctx.rotate(-Math.PI / 2);
    ctx.font = "16px " + FONT;
    var p1 = "CO", p3 = " Emissions vs CDC [%]";
    var w1 = ctx.measureText(p1).width, w3 = ctx.measureText(p3).width;
    ctx.font = "12px " + FONT;
    var w2 = ctx.measureText("2").width;
    var x0 = -(w1 + w2 + w3) / 2;
    ctx.textAlign = "left";
    ctx.font = "16px " + FONT;
    ctx.fillText(p1, x0, 0);
    ctx.font = "12px " + FONT;
    ctx.fillText("2", x0 + w1, 4);
    ctx.font = "16px " + FONT;
    ctx.fillText(p3, x0 + w1 + w2, 0);
    ctx.restore();
  }
};

function makePanel(id, runs, best, xMin, xMax, xTicks, fmt, xTitle, letter, letterShift, bottomWidth) {
  return new Chart(document.getElementById(id), {
    type: "scatter",
    data: {
      datasets: [
        { label: "best", data: toXY([best]), pointStyle: crossImg, pointRadius: 8 },
        { label: "FL P2 RCCI 210", data: toXY(runs), pointRadius: 3.3, borderWidth: 0, backgroundColor: "#000", borderColor: "#000" }
      ]
    },
    options: {
      responsive: false,
      animation: false,
      events: [],
      layout: { padding: { top: 49, right: 20, left: 0, bottom: 0 } },
      plugins: {
        legend: { display: false },
        tooltip: { enabled: false },
        decor: { xTicks: xTicks, xTitle: xTitle, letter: letter, letterShift: letterShift, bottomWidth: bottomWidth }
      },
      scales: {
        x: {
          type: "linear", min: xMin, max: xMax,
          afterFit: function (s) { s.height = 83; },
          afterBuildTicks: function (s) { s.ticks = xTicks.map(function (v) { return { value: v }; }); },
          grid: { display: false, drawTicks: false },
          border: { display: false },
          ticks: { padding: 16, color: "#000", font: { family: FONT, size: 12 }, maxRotation: 0, autoSkip: false, callback: fmt }
        },
        y: {
          min: -25, max: 5,
          afterFit: function (s) { s.width = 72; },
          afterBuildTicks: function (s) { s.ticks = co2Ticks.map(function (v) { return { value: v }; }); },
          grid: { display: false, drawTicks: false },
          border: { display: false },
          ticks: { padding: 15, color: "#000", font: { family: FONT, size: 12 }, callback: function (v) { return String(v).replace("-", "\u2212"); } }
        }
      }
    },
    plugins: [decor]
  });
}

makePanel("splitChart", splitRuns, splitBest, 0, 1, splitTicks, function (v) { return v.toFixed(1); }, "Split ICE-EM [-]", "(a)", -37, 1.4);
makePanel("speedChart", speedRuns, speedBest, 0, 100, speedTicks, function (v) { return String(v); }, "Max Pure Electric Speed [km/h]", "(b)", -32, 1.4);
makePanel("socChart", socRuns, socBest, 0.44, 0.60, socTicks, function (v) { return v.toFixed(2); }, "SOC Charge [-]", "(c)", 2, 2.2);
</script>
</body>
</html>
